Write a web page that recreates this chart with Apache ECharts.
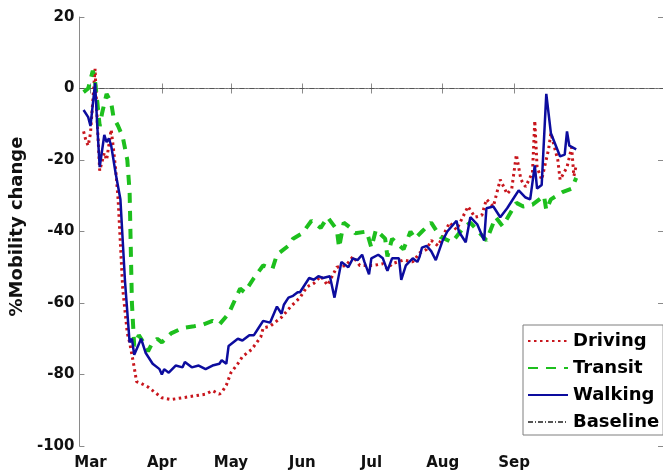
<!DOCTYPE html>
<html>
<head>
<meta charset="utf-8">
<script src="https://cdn.jsdelivr.net/npm/echarts@6/dist/echarts.min.js"></script>
<style>
  html, body { margin: 0; padding: 0; background: #fff; }
  #chart { width: 663px; height: 475px; }
</style>
</head>
<body>
<div id="chart"></div>
<script>
// x values are days counted from 1 March
const monthTicks = [0, 31, 61, 92, 122, 153, 184];
const monthLabels = ['Mar', 'Apr', 'May', 'Jun', 'Jul', 'Aug', 'Sep'];
const xMin = -4.8;
const xMax = 248.7;

const drivingDays = [-3,-2,-1,0,2,3,4,6,7,9,10,11,12,14,16,17,19,20,22,25,28,31,35,40,45,50,53,56,57,59,61,64,66,70,74,75,78,80,83,87,91,94,97,100,103,107,111,114,117,120,123,127,129,131,136,140,143,146,148,151,156,159,164,167,170,172,175,178,181,183,185,187,189,192,193,194,196,199,200,203,204,207,209,210,211];
const drivingValues = [-12,-14.5,-16,-12.5,5.5,-10,-23,-18,-20,-11.5,-17,-23,-31,-56,-68.5,-71,-78,-82,-82.5,-83.5,-85,-86.5,-87,-86.5,-86,-85.5,-84.5,-85.5,-85,-83,-79.5,-77,-75,-73,-69.5,-67,-66.5,-65.5,-64,-61,-58.5,-55.5,-54.5,-52.5,-55,-50,-49.5,-47,-49.5,-49.5,-49.5,-49,-50.5,-49,-48,-48.5,-46,-45,-42.5,-44,-37.5,-39.5,-33,-36,-35.5,-31,-33,-25.5,-29.5,-28,-18.5,-25.5,-27.5,-23.5,-9,-22,-25.5,-17,-12.5,-20,-25.5,-22,-16.5,-24.5,-21.5];

const transitDays = [-3,-1,1,2,3,4,5,7,9,10,12,14,16,17,18,19,21,23,25,27,29,31,35,40,45,49,53,56,60,65,67,71,75,79,81,86,88,92,96,100,103,107,108,110,113,115,120,122,124,128,129,131,136,139,141,144,148,152,157,162,165,172,176,179,185,188,192,197,198,200,205,209,211];
const transitValues = [-1,0,5,2,-4,-10.5,-7,-1.5,-4,-8,-10.5,-13.5,-20,-29,-60,-72,-69,-71,-73.5,-71,-70,-71,-68.5,-67,-66.5,-66,-65,-66,-63,-56,-57,-53,-49.5,-50.5,-46.5,-44,-42,-40.5,-37,-39,-36,-39.5,-44.5,-37.5,-39,-40.5,-40,-44.5,-39.5,-42,-47,-42,-45,-40,-42,-40,-37.5,-41.5,-43,-39,-37.5,-42.5,-36,-38.5,-32,-33,-32.5,-30,-34,-31,-29,-28,-25];

const walkingDays = [-3,-1,0,2,3,4,6,7,8,9,11,13,15,17,18,19,22,24,27,30,31,32,34,37,40,41,44,47,50,53,56,57,59,60,64,66,69,71,73,75,78,81,83,84,86,88,90,91,95,97,99,101,104,106,109,112,114,116,118,119,121,122,125,127,129,131,134,135,137,140,142,143,144,146,148,150,153,155,159,160,163,165,168,171,172,175,178,181,184,186,189,191,193,194,196,198,200,204,206,207,208,211];
const walkingValues = [-6,-8,-10.5,1.5,-11,-22,-13,-15,-14,-16,-24,-31,-54,-71,-70,-74.5,-70,-74,-77,-78.5,-80,-78.5,-79.5,-77.5,-78,-76.5,-78,-77.5,-78.5,-77.5,-77,-76,-77,-72,-70,-70.5,-69,-69,-67,-65,-65.5,-61,-63,-60.5,-58.5,-58,-57,-57,-53,-53.5,-52.5,-53,-52.5,-58.5,-48.5,-50,-47.5,-48,-46.5,-48.5,-52,-47.5,-46.5,-47.5,-51,-47.5,-47.5,-53.5,-49.5,-47.5,-48.5,-47,-44.5,-44,-45.5,-48,-42.5,-40,-37,-40,-43,-36,-38,-42.5,-33.5,-33,-36,-33.5,-30.5,-28.5,-30.5,-31,-21.5,-28,-27,-1.5,-12.5,-19,-18.5,-12,-16,-17];

const baselineValue = 0;

const zip = (xs, ys) => xs.map((x, i) => [x, ys[i]]);

const FONT = 'DejaVu Sans';
const AXIS_GREY = '#8a8a8a';

const chart = echarts.init(document.getElementById('chart'), null, { renderer: 'canvas' });

const xAxisCommon = {
  type: 'value',
  min: xMin,
  max: xMax,
  splitLine: { show: false },
  axisLine: { show: true, lineStyle: { color: AXIS_GREY, width: 1 } },
  axisTick: { show: true, inside: true, length: 5, customValues: monthTicks, lineStyle: { color: AXIS_GREY } }
};

const yAxisCommon = {
  type: 'value',
  min: -100,
  max: 20,
  interval: 20,
  splitLine: { show: false },
  axisLine: { show: true, onZero: false, lineStyle: { color: AXIS_GREY, width: 1 } },
  axisTick: { show: true, inside: true, length: 5, lineStyle: { color: AXIS_GREY } }
};

chart.setOption({
  animation: false,
  backgroundColor: '#ffffff',
  grid: { left: 77, top: 17, width: 588, height: 429, containLabel: false },
  xAxis: [
    Object.assign({}, xAxisCommon, {
      position: 'bottom',
      axisLabel: {
        show: true,
        customValues: monthTicks,
        formatter: v => monthLabels[monthTicks.indexOf(v)] || '',
        margin: 10,
        color: '#111',
        fontFamily: FONT,
        fontWeight: 'bold',
        fontSize: 15
      }
    }),
    Object.assign({}, xAxisCommon, {
      position: 'top',
      axisLabel: { show: false }
    })
  ],
  yAxis: [
    Object.assign({}, yAxisCommon, {
      position: 'left',
      name: '%Mobility change',
      nameLocation: 'middle',
      nameGap: 45,
      nameTextStyle: { color: '#111', fontFamily: FONT, fontWeight: 'bold', fontSize: 18, padding: [0, 0, 0, 10] },
      axisLabel: { color: '#111', fontFamily: FONT, fontWeight: 'bold', fontSize: 15, margin: 5 }
    }),
    Object.assign({}, yAxisCommon, {
      position: 'right',
      axisLabel: { show: false }
    })
  ],
  legend: {
    orient: 'vertical',
    left: 523,
    top: 325,
    data: ['Driving', 'Transit', 'Walking', 'Baseline'],
    backgroundColor: '#ffffff',
    borderColor: '#7f7f7f',
    borderWidth: 1,
    padding: [7, 4, 4, 4],
    itemGap: 9,
    itemWidth: 40,
    itemHeight: 16,
    itemStyle: { opacity: 0 },
    textStyle: { color: '#000', fontFamily: FONT, fontWeight: 'bold', fontSize: 18 }
  },
  series: [
    {
      name: 'Driving',
      type: 'line',
      data: zip(drivingDays, drivingValues),
      symbol: 'none',
      lineStyle: { color: '#c8161d', width: 3, type: [2.5, 3.5], cap: 'butt' },
      itemStyle: { color: '#c8161d' },
      z: 2
    },
    {
      name: 'Transit',
      type: 'line',
      data: zip(transitDays, transitValues),
      symbol: 'none',
      lineStyle: { color: '#1dbf1d', width: 4, type: [10, 8] },
      itemStyle: { color: '#1dbf1d' },
      z: 3
    },
    {
      name: 'Walking',
      type: 'line',
      data: zip(walkingDays, walkingValues),
      symbol: 'none',
      lineStyle: { color: '#0c0c9e', width: 2.5 },
      itemStyle: { color: '#0c0c9e' },
      z: 4
    },
    {
      name: 'Baseline',
      type: 'line',
      data: [[xMin, baselineValue], [xMax, baselineValue]],
      symbol: 'none',
      lineStyle: { color: '#555555', width: 1, type: [5, 2, 1, 2] },
      itemStyle: { color: '#555555' },
      z: 1
    }
  ]
});
</script>
</body>
</html>
